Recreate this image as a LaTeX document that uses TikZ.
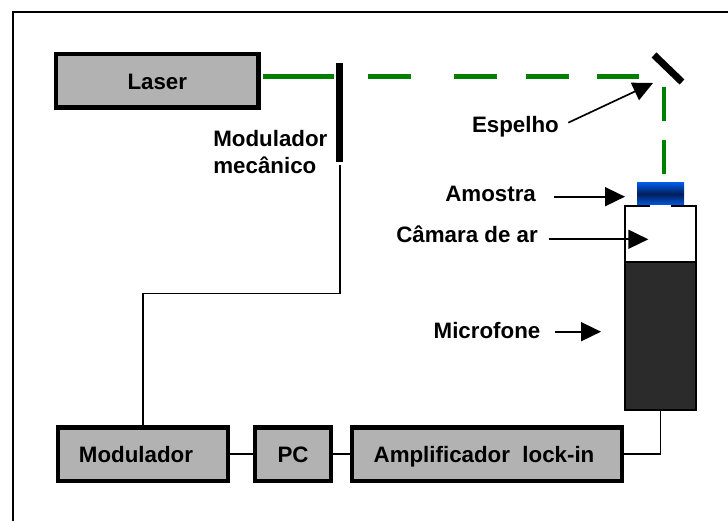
\documentclass[tikz,border=0pt]{standalone}
\usepackage{fontspec}
\setmainfont{Liberation Sans}
\usepackage{xcolor}
\usepackage{tikz}
\usetikzlibrary{arrows.meta, positioning, calc}

\definecolor{beamgreen}{HTML}{008000}
\definecolor{boxgray}{HTML}{B2B2B2}
\definecolor{micdark}{HTML}{2B2B2B}
\definecolor{sampleblue}{HTML}{0058E0}
\definecolor{samplenavy}{HTML}{001E5A}

\tikzset{
  every node/.style={font=\fontsize{12.7}{15.2}\selectfont\bfseries},
  block/.style={draw=black, line width=2.5pt, fill=boxgray, minimum height=1.068cm, inner sep=0pt, text height=9.2pt, text depth=0pt},
  tag/.style={anchor=base west, inner sep=0pt, align=left},
  signal/.style={draw=black, line width=0.95pt},
  beam/.style={draw=beamgreen, line width=2.3pt},
  pointer/.style={signal, -{Triangle[length=0.4cm, width=0.38cm]}}
}

\begin{document}
\begin{tikzpicture}
  \useasboundingbox (0, 0) rectangle (14.56, 10.42);
  \draw[line width=1.4pt] (0.26, 0) |- (14.56, 10.18);

  % boxes
  \node[block, minimum width=4.04cm] (laser) at (3.146, 8.8) {Laser};
  \node[block, minimum width=3.4cm] (modulador) at (2.86, 1.34) {Modulador\hspace*{8pt}};
  \node[block, minimum width=1.512cm] (pc) at (5.86, 1.34) {PC};
  \node[block, minimum width=5.408cm] (amplificador) at (9.74, 1.34) {Amplificador\ \ lock-in\hspace*{3.4pt}};
  \node[fill=black, minimum width=0.14cm, minimum height=1.98cm, inner sep=0pt] (chopper) at (6.794, 8.17) {};

  % cell
  \node[draw=black, line width=1.1pt, fill=white, minimum width=1.408cm, minimum height=1.12cm, inner sep=0pt] (camara) at (13.21, 5.74) {};
  \node[draw=black, line width=1.1pt, fill=micdark, minimum width=1.408cm, minimum height=2.96cm, inner sep=0pt] (microfone) at (13.21, 3.70) {};
  \draw[white, line width=1.4pt] (13.0, 6.30) -- (13.42, 6.30);
  \node[top color=sampleblue, bottom color=sampleblue, middle color=samplenavy, minimum width=0.94cm, minimum height=0.44cm, inner sep=0pt] (amostra) at (13.21, 6.54) {};

  % mirror
  \coordinate (mirrorA) at (13.08, 9.32);
  \coordinate (mirrorB) at (13.64, 8.78);
  \draw[line width=4pt] (mirrorA) -- (mirrorB);

  % light path
  \coordinate (beamA) at (7.36, 8.89);
  \coordinate (beamB) at (12.78, 8.89);
  \coordinate (beamC) at (13.28, 8.68);
  \coordinate (beamD) at (13.28, 6.94);
  \draw[beam, shorten <=1.5pt, shorten >=1pt] (laser.east |- beamA) -- (chopper.west |- beamA);
  \draw[beam, dash pattern=on 0.86cm off 0.86cm on 0.86cm off 0.58cm on 0.86cm off 0.56cm on 0.86cm off 1cm] (beamA) -- (beamB);
  \draw[beam, dash pattern=on 0.68cm off 0.38cm] (beamC) -- (beamD);

  % wiring
  \draw[signal, shorten <=1.5pt] (chopper.south) -- ++(0, -2.626) -| (modulador.north);
  \draw[signal] (modulador) -- (pc);
  \draw[signal] (pc) -- (amplificador);
  \draw[signal] (amplificador.east) -| (microfone.south);

  % labels
  \node[tag] (tagChopper) at (4.26, 6.95) {Modulador\\mecânico};
  \node[tag] (tagEspelho) at (9.434, 7.766) {Espelho};
  \node[tag] (tagAmostra) at (8.90, 6.386) {Amostra};
  \node[tag] (tagCamara) at (7.92, 5.56) {Câmara de ar};
  \node[tag] (tagMicrofone) at (8.666, 3.66) {Microfone};

  \coordinate (tipEspelho) at (13.06, 8.76);
  \coordinate (tipAmostra) at (12.5, 6.486);
  \coordinate (tipCamara) at (12.966, 5.634);
  \coordinate (tipMicrofone) at (12.02, 3.786);
  \draw[pointer, shorten <=5.7pt] (tagEspelho.east) -- (tipEspelho);
  \draw[pointer, shorten <=10pt] (tagAmostra.east |- tipAmostra) -- (tipAmostra);
  \draw[pointer, shorten <=6pt] (tagCamara.east |- tipCamara) -- (tipCamara);
  \draw[pointer, shorten <=8pt] (tagMicrofone.east |- tipMicrofone) -- (tipMicrofone);
\end{tikzpicture}
\end{document}
